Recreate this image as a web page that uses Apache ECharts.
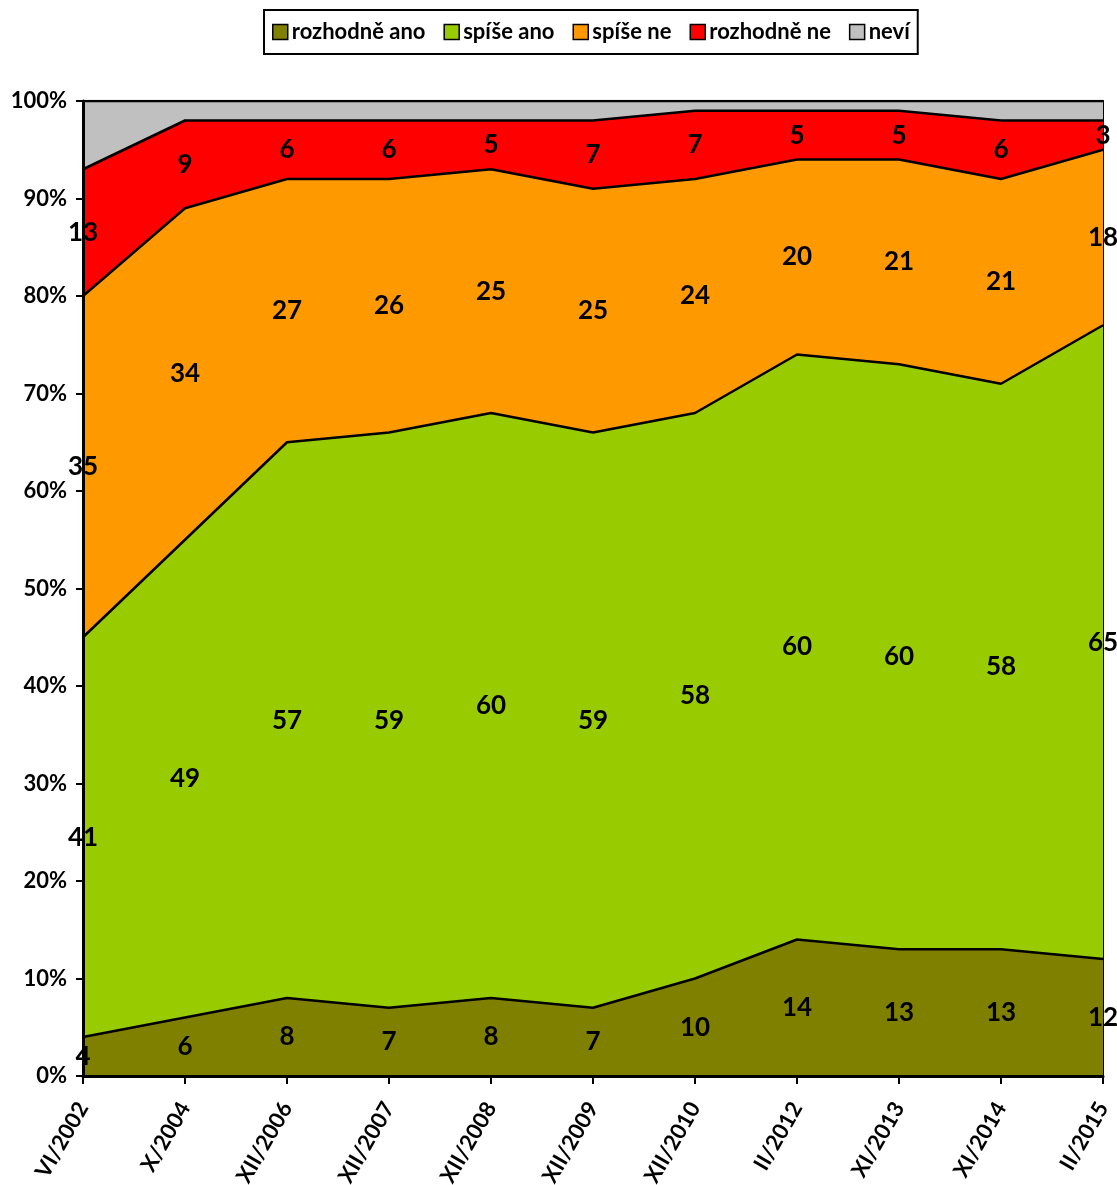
<!DOCTYPE html>
<html>
<head>
<meta charset="utf-8">
<script src="https://cdn.jsdelivr.net/npm/echarts@6/dist/echarts.min.js"></script>
<style>
  html, body { margin: 0; padding: 0; background: #fff; }
  #chart { width: 1117px; height: 1185px; }
</style>
</head>
<body>
<div id="chart"></div>
<script>
const categories = ['VI/2002', 'X/2004', 'XII/2006', 'XII/2007', 'XII/2008', 'XII/2009', 'XII/2010', 'II/2012', 'XI/2013', 'XI/2014', 'II/2015']

const rozhodneAno = [4, 6, 8, 7, 8, 7, 10, 14, 13, 13, 12]
const spiseAno = [41, 49, 57, 59, 60, 59, 58, 60, 60, 58, 65]
const spiseNe = [35, 34, 27, 26, 25, 25, 24, 20, 21, 21, 18]
const rozhodneNe = [13, 9, 6, 6, 5, 7, 7, 5, 5, 6, 3]
const nevi = [7, 2, 2, 2, 2, 2, 1, 1, 1, 2, 2]

const yTicks = [0, 10, 20, 30, 40, 50, 60, 70, 80, 90, 100]

const bands = [
  { name: 'rozhodně ano', data: rozhodneAno, color: '#808000', label: true },
  { name: 'spíše ano', data: spiseAno, color: '#99CC00', label: true },
  { name: 'spíše ne', data: spiseNe, color: '#FF9900', label: true },
  { name: 'rozhodně ne', data: rozhodneNe, color: '#FF0000', label: true },
  { name: 'neví', data: nevi, color: '#C0C0C0', label: false }
]

const font = 'Lato, "Open Sans", sans-serif'

const chart = echarts.init(document.getElementById('chart'))

const series = []
bands.forEach(b => {
  series.push({
    name: b.name,
    type: 'line',
    stack: 'total',
    data: b.data,
    showSymbol: false,
    symbol: 'none',
    lineStyle: { color: '#000', width: 2.5 },
    itemStyle: { color: b.color },
    areaStyle: { color: b.color, opacity: 1 },
    z: 2
  })
})

// labels centred in each band
const base = categories.map(() => 0)
bands.forEach(b => {
  const pts = b.data.map((v, i) => [i, base[i] + v / 2, v])
  b.data.forEach((v, i) => { base[i] += v })
  if (!b.label) return
  series.push({
    name: b.name + '-lbl',
    type: 'scatter',
    data: pts,
    symbolSize: 1,
    itemStyle: { color: b.color, opacity: 1 },
    silent: true,
    z: 5,
    label: {
      show: true,
      position: 'inside',
      formatter: p => p.data[2],
      color: '#000',
      opacity: 1,
      textBorderWidth: 0,
      fontFamily: font,
      fontWeight: 'bold',
      fontSize: 26
    }
  })
})

const option = {
  animation: false,
  backgroundColor: '#fff',
  legend: {
    data: bands.map(b => b.name),
    top: 10,
    left: 264,
    icon: 'rect',
    itemWidth: 15,
    itemHeight: 15,
    itemGap: 18,
    padding: [11, 8, 11, 8],
    borderColor: '#000',
    borderWidth: 2,
    itemStyle: { borderColor: '#000', borderWidth: 1.5 },
    textStyle: { fontFamily: font, fontWeight: 'bold', fontSize: 22, color: '#000', padding: [0, 0, 0, -1] }
  },
  grid: {
    left: 83,
    right: 14,
    top: 101,
    bottom: 109,
    show: true,
    borderColor: '#000',
    borderWidth: 2,
    containLabel: false,
    outerBoundsMode: 'none'
  },
  xAxis: {
    type: 'category',
    data: categories,
    boundaryGap: false,
    axisLine: { lineStyle: { color: '#000', width: 3 } },
    axisTick: { show: true, length: 8, lineStyle: { color: '#000', width: 2 } },
    axisLabel: {
      interval: 0,
      rotate: 60,
      margin: 28,
      color: '#000',
      fontFamily: font,
      fontWeight: 'bold',
      fontSize: 22
    },
    z: 10
  },
  yAxis: {
    type: 'value',
    min: yTicks[0],
    max: yTicks[yTicks.length - 1],
    interval: 10,
    axisLine: { show: true, lineStyle: { color: '#000', width: 3 } },
    axisTick: { show: true, length: 7, lineStyle: { color: '#000', width: 2 } },
    splitLine: { show: false },
    axisLabel: {
      formatter: '{value}%',
      margin: 16,
      color: '#000',
      fontFamily: font,
      fontWeight: 'bold',
      fontSize: 22
    },
    z: 10
  },
  series: series
}

chart.setOption(option)
</script>
</body>
</html>
